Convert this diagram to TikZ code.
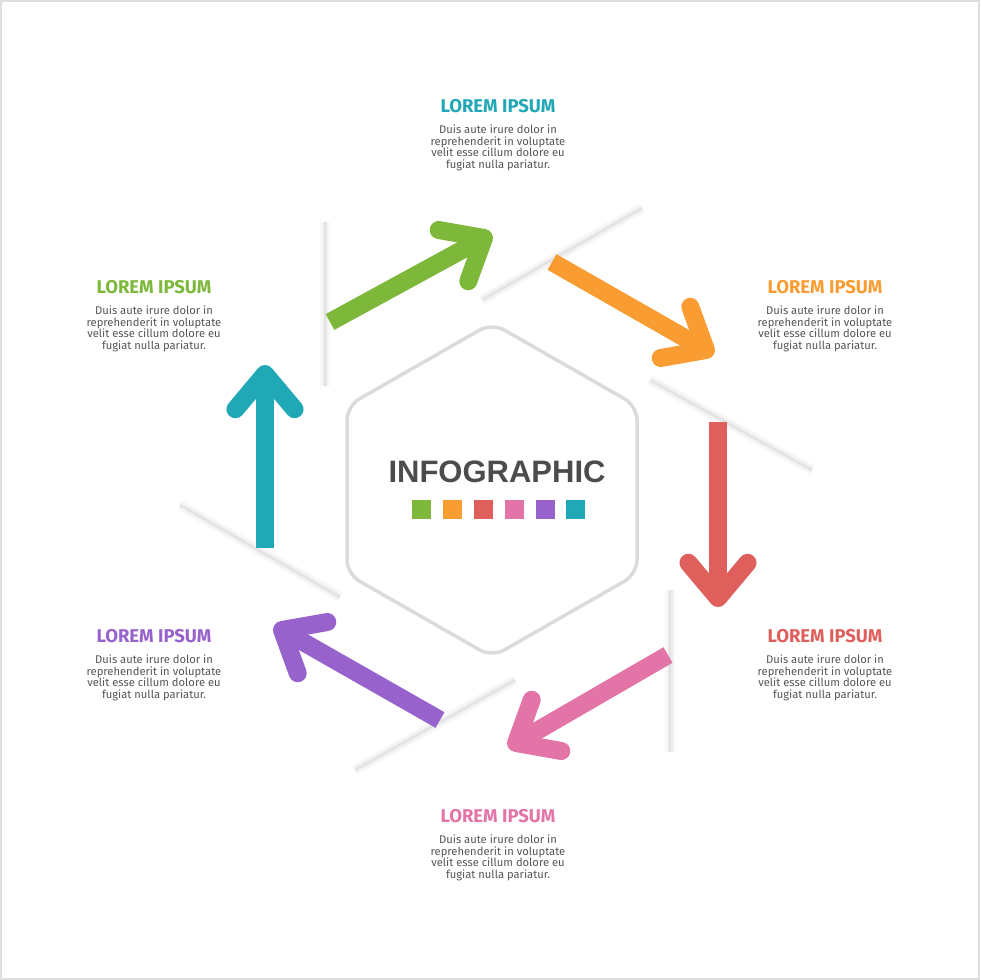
\documentclass[tikz,border=0pt]{standalone}
\usepackage{fontspec}
\setmainfont{Fira Sans}
\newfontfamily\hfont{Liberation Sans}
\usetikzlibrary{calc}
\definecolor{cgreen}{HTML}{7DB83A}
\definecolor{corange}{HTML}{F99D33}
\definecolor{cred}{HTML}{DE5F5C}
\definecolor{cpink}{HTML}{E374A8}
\definecolor{cpurple}{HTML}{9762CC}
\definecolor{cteal}{HTML}{20A8B6}
\definecolor{bodyc}{HTML}{555555}
\tikzset{
  arr/.style={line width=18pt,line cap=round,line join=round},
  shad/.style={line width=10pt,black,opacity=0.03},
  shad1/.style={line width=5pt,black,opacity=0.04},
  shad2/.style={line width=1.5pt,black,opacity=0.05},
  ttl/.style={font=\bfseries\fontsize{18.5}{21}\selectfont},
  bdy/.style={font=\fontsize{11.2}{11.8}\selectfont,text=bodyc,align=center},
  sq/.style={minimum size=19pt,inner sep=0pt}
}
\newcommand{\arrowhead}[3]{% color, tip, angle
  \draw[arr,#1] ([shift={(#3+140:46)}]#2) -- (#2) -- ([shift={(#3-140:46)}]#2);}
\begin{document}
\begin{tikzpicture}[x=1pt,y=-1pt]
\useasboundingbox (0,0) rectangle (980,980);
\draw[gray!25,line width=2pt] (1,1) rectangle (979,979);
% shadows
\foreach \a/\b in {{(482,300)}/{(642,208)},{(650,380)}/{(812,470)},{(670,590)}/{(670,752)},{(355,770)}/{(515,680)},{(180,505)}/{(340,597)},{(325,222)}/{(325,386)}}{
  \draw[shad] \a -- \b; \draw[shad1] \a -- \b; \draw[shad2] \a -- \b;}
% hexagon
\draw[gray!28,line width=3.5pt,rounded corners=14pt] (492,323) -- (637,406) -- (637,574) -- (492,657) -- (347,574) -- (347,406) -- cycle;
\node[font=\hfont\bfseries\fontsize{31}{32}\selectfont,text=black!70] (title) at (497,472) {INFOGRAPHIC};
\node[sq,fill=cgreen] (s1) at (421,509) {};
\node[sq,fill=corange] (s2) at (452,509) {};
\node[sq,fill=cred] (s3) at (483,509) {};
\node[sq,fill=cpink] (s4) at (514,509) {};
\node[sq,fill=cpurple] (s5) at (545,509) {};
\node[sq,fill=cteal] (s6) at (575,509) {};
% arrows
\coordinate (g0) at (330,322); \coordinate (g1) at (484,238);
\coordinate (o0) at (552,262); \coordinate (o1) at (706,350);
\coordinate (r0) at (718,422); \coordinate (r1) at (718,598);
\coordinate (p0) at (668,655); \coordinate (p1) at (516,743);
\coordinate (u0) at (440,720); \coordinate (u1) at (282,630);
\coordinate (t0) at (265,548); \coordinate (t1) at (265,374);
\draw[arr,cgreen,line cap=butt] (g0) -- (g1); \arrowhead{cgreen}{g1}{-30}
\draw[arr,corange,line cap=butt] (o0) -- (o1); \arrowhead{corange}{o1}{30}
\draw[arr,cred,line cap=butt] (r0) -- (r1); \arrowhead{cred}{r1}{90}
\draw[arr,cpink,line cap=butt] (p0) -- (p1); \arrowhead{cpink}{p1}{150}
\draw[arr,cpurple,line cap=butt] (u0) -- (u1); \arrowhead{cpurple}{u1}{210}
\draw[arr,cteal,line cap=butt] (t0) -- (t1); \arrowhead{cteal}{t1}{270}
% texts
\newcommand{\bodytext}{Duis aute irure dolor in\\reprehenderit in voluptate\\velit esse cillum dolore eu\\fugiat nulla pariatur.}
\foreach \n/\x/\y/\c in {top/498/106/cteal,tr/825/287/corange,tl/154/287/cgreen,br/825/636/cred,bl/154/636/cpurple,bot/498/816/cpink}{
  \node[ttl,text=\c] (\n-t) at (\x,\y) {LOREM IPSUM};
  \node[bdy,anchor=north] (\n-b) at (\x,\y+15) {\bodytext};
}
\end{tikzpicture}
\end{document}
